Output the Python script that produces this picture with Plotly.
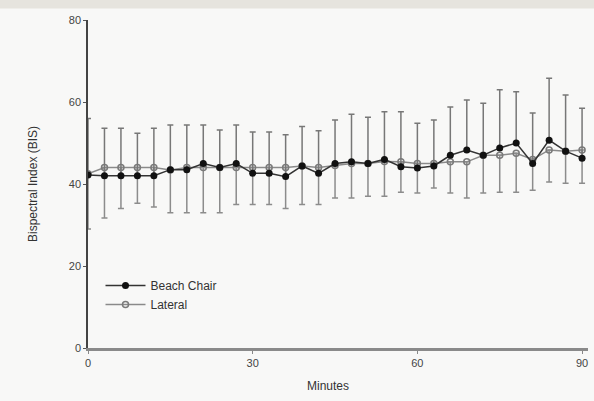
import plotly.graph_objects as go

minutes = list(range(0, 91, 3))

beach_chair = [42.2, 42.0, 42.0, 42.0, 42.0, 43.5, 43.5, 45.0, 44.0, 45.0, 42.6,
               42.6, 41.8, 44.4, 42.6, 45.0, 45.4, 45.0, 46.0, 44.2, 43.9,
               44.4, 47.0, 48.3, 47.0, 48.8, 50.0, 45.0, 50.7, 48.0, 46.3]
beach_chair_err = [13.8, 11.6, 11.6, 10.4, 11.6, 10.9, 10.9, 9.4, 9.2, 9.4, 10.1,
                   10.1, 10.2, 9.6, 10.4, 10.6, 11.6, 11.3, 11.6, 13.4, 10.9,
                   11.2, 11.8, 12.2, 12.7, 14.2, 12.5, 12.3, 15.1, 13.7, 12.2]

lateral = [42.5, 44.0, 44.0, 44.0, 44.0, 43.4, 44.0, 44.0, 44.0, 44.0, 44.0,
           44.0, 44.0, 44.4, 44.0, 44.5, 45.0, 45.0, 45.5, 45.4, 45.0,
           45.0, 45.4, 45.4, 47.0, 47.0, 47.5, 46.0, 48.3, 48.0, 48.3]
lateral_err = [13.5, 12.3, 10.0, 8.7, 9.6, 10.4, 11.0, 11.0, 11.0, 9.0, 9.0,
               9.0, 10.0, 9.4, 9.0, 7.9, 8.4, 8.0, 8.5, 7.4, 7.2,
               6.0, 7.6, 8.8, 9.2, 9.0, 9.5, 7.5, 7.8, 7.8, 8.1]

x_ticks = [0, 30, 60, 90]
y_ticks = [0, 20, 40, 60, 80]

FONT = "Liberation Sans, Arial, sans-serif"

fig = go.Figure()

fig.add_trace(go.Scatter(
    x=minutes, y=lateral, name="Lateral", mode="lines+markers",
    line=dict(color="#8a8a8a", width=1.5),
    marker=dict(symbol="circle-open", size=6, color="#7a7a7a", line=dict(width=1.5)),
    error_y=dict(type="data", symmetric=False, array=[0] * len(lateral_err),
                 arrayminus=lateral_err, color="#8c8c8c", thickness=1.5, width=3),
))
fig.add_trace(go.Scatter(
    x=minutes, y=beach_chair, name="Beach Chair", mode="lines+markers",
    line=dict(color="#333333", width=1.5),
    marker=dict(symbol="circle", size=7, color="#111111"),
    error_y=dict(type="data", symmetric=False, array=beach_chair_err,
                 arrayminus=[0] * len(beach_chair_err), color="#777777", thickness=1.5, width=3),
))

fig.update_layout(
    width=594, height=401,
    margin=dict(l=88, r=6, t=20, b=53),
    paper_bgcolor="#f8f8f7", plot_bgcolor="#f8f8f7",
    font=dict(family=FONT, size=11, color="#333333"),
    showlegend=True,
    legend=dict(x=0.025, y=0.235, xanchor="left", yanchor="top",
                bgcolor="rgba(0,0,0,0)", traceorder="reversed",
                font=dict(family=FONT, size=12, color="#333333"),
                itemwidth=40, tracegroupgap=2),
    xaxis=dict(range=[0, 91.08], tickvals=x_ticks, ticktext=[str(v) for v in x_ticks],
               showgrid=False, zeroline=False, showline=True, linecolor="#8a8a8a", linewidth=3,
               ticks="outside", ticklen=3, tickcolor="#888888", tickfont=dict(size=11, color="#444444")),
    yaxis=dict(range=[0, 80], tickvals=y_ticks, ticktext=[str(v) for v in y_ticks],
               showgrid=False, zeroline=False, showline=True, linecolor="#444444", linewidth=1.5,
               ticks="outside", ticklen=3, tickcolor="#555555", tickfont=dict(size=11, color="#444444")),
    annotations=[
        dict(text="Bispectral Index (BIS)", xref="paper", yref="paper",
             x=-0.11, y=0.5, xanchor="center", yanchor="middle", textangle=-90,
             showarrow=False, font=dict(family=FONT, size=12, color="#333333")),
        dict(text="Minutes", xref="paper", yref="paper",
             x=0.48, y=-0.115, xanchor="center", yanchor="middle",
             showarrow=False, font=dict(family=FONT, size=12, color="#333333")),
    ],
    shapes=[
        dict(type="rect", xref="paper", yref="paper", x0=-0.2, x1=1.02, y0=1.035, y1=1.07,
             fillcolor="#e6e4de", line=dict(width=0), layer="below"),
    ],
)

fig.write_html("out.html")
